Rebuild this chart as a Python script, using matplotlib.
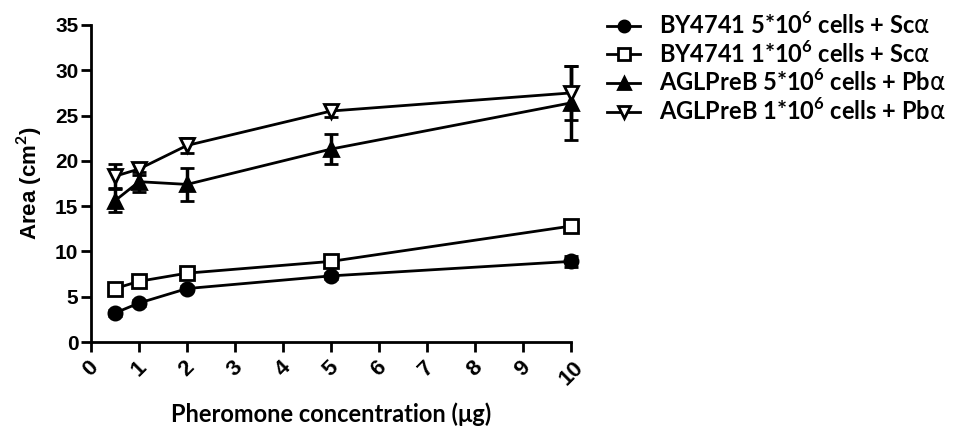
import numpy as np
import matplotlib.pyplot as plt
from matplotlib.lines import Line2D

# pheromone amounts (ug)
conc = [0.5, 1, 2, 5, 10]

by_5e6 = [3.2, 4.3, 5.9, 7.3, 8.9]
by_5e6_err = [0.3, 0.3, 0.3, 0.3, 0.6]
by_1e6 = [5.9, 6.7, 7.6, 8.9, 12.8]
by_1e6_err = [0.3, 0.3, 0.4, 0.3, 0.3]
agl_5e6 = [15.6, 17.7, 17.4, 21.3, 26.4]
agl_5e6_err = [1.3, 1.1, 1.8, 1.7, 4.1]
agl_1e6 = [18.3, 19.1, 21.7, 25.5, 27.5]
agl_1e6_err = [1.3, 0.7, 0.8, 0.7, 3.0]

labels = [r"BY4741 5*10$^{\mathbf{6}}$ cells + Sc$\alpha$",
          r"BY4741 1*10$^{\mathbf{6}}$ cells + Sc$\alpha$",
          r"AGLPreB 5*10$^{\mathbf{6}}$ cells + Pb$\alpha$",
          r"AGLPreB 1*10$^{\mathbf{6}}$ cells + Pb$\alpha$"]

plt.rcParams['mathtext.fontset'] = 'custom'
plt.rcParams['mathtext.rm'] = 'Lato:bold'
plt.rcParams['mathtext.bf'] = 'Lato:bold'
plt.rcParams['mathtext.it'] = 'DejaVu Sans'

fig = plt.figure(figsize=(9.59, 4.3), dpi=100)
ax = fig.add_axes([91 / 959, 1 - 342 / 430, 480 / 959, 317 / 430])

series = [
    (by_5e6, by_5e6_err, dict(marker='o', mfc='black')),
    (by_1e6, by_1e6_err, dict(marker='s', mfc='white')),
    (agl_5e6, agl_5e6_err, dict(marker='^', mfc='black')),
    (agl_1e6, agl_1e6_err, dict(marker='v', mfc='white')),
]
handles = []
for (vals, err, style), lab in zip(series, labels):
    ax.errorbar(conc, vals, yerr=err, color='black', lw=2, ms=9.5, mew=2,
                capsize=5, capthick=2.5, elinewidth=2.5,
                clip_on=False, zorder=3, **style)
    handles.append(Line2D([], [], color='black', lw=2, ms=8, mew=2,
                          label=lab, **style))

ax.set_xlim(0, 10)
ax.set_ylim(0, 35)
ax.set_xticks(range(0, 11))
ax.set_yticks(range(0, 36, 5))
for s in ['top', 'right']:
    ax.spines[s].set_visible(False)
for s in ['left', 'bottom']:
    ax.spines[s].set_linewidth(2)
ax.tick_params(width=2, length=7, direction='out', labelsize=15, pad=2)
ax.tick_params(axis='x', labelsize=16, pad=4)
for t in ax.get_yticklabels():
    t.set_fontfamily('Liberation Sans')
    t.set_fontweight('bold')
for t in ax.get_xticklabels():
    t.set_fontfamily('Liberation Sans')
    t.set_fontweight('bold')
    t.set_rotation(45)
    t.set_ha('center')
    t.set_va('top')

ax.set_ylabel(r"Area (cm$^{\mathbf{2}}$)", fontsize=16, fontweight='bold',
              family='Liberation Sans', labelpad=8)
ax.set_xlabel("Pheromone concentration (\u03bcg)", fontsize=17,
              fontweight='bold', family='Lato')
ax.xaxis.set_label_coords(0.5, -0.19)

leg = ax.legend(handles=handles, loc='upper left',
                bbox_to_anchor=(600 / 959, 0.99),
                bbox_transform=fig.transFigure, frameon=False,
                prop=dict(family='Lato', weight='bold', size=17),
                handlelength=1.4, handletextpad=0.8, labelspacing=0.1,
                borderaxespad=0.0, borderpad=0.3)

fig.savefig('out.png', dpi=100)
